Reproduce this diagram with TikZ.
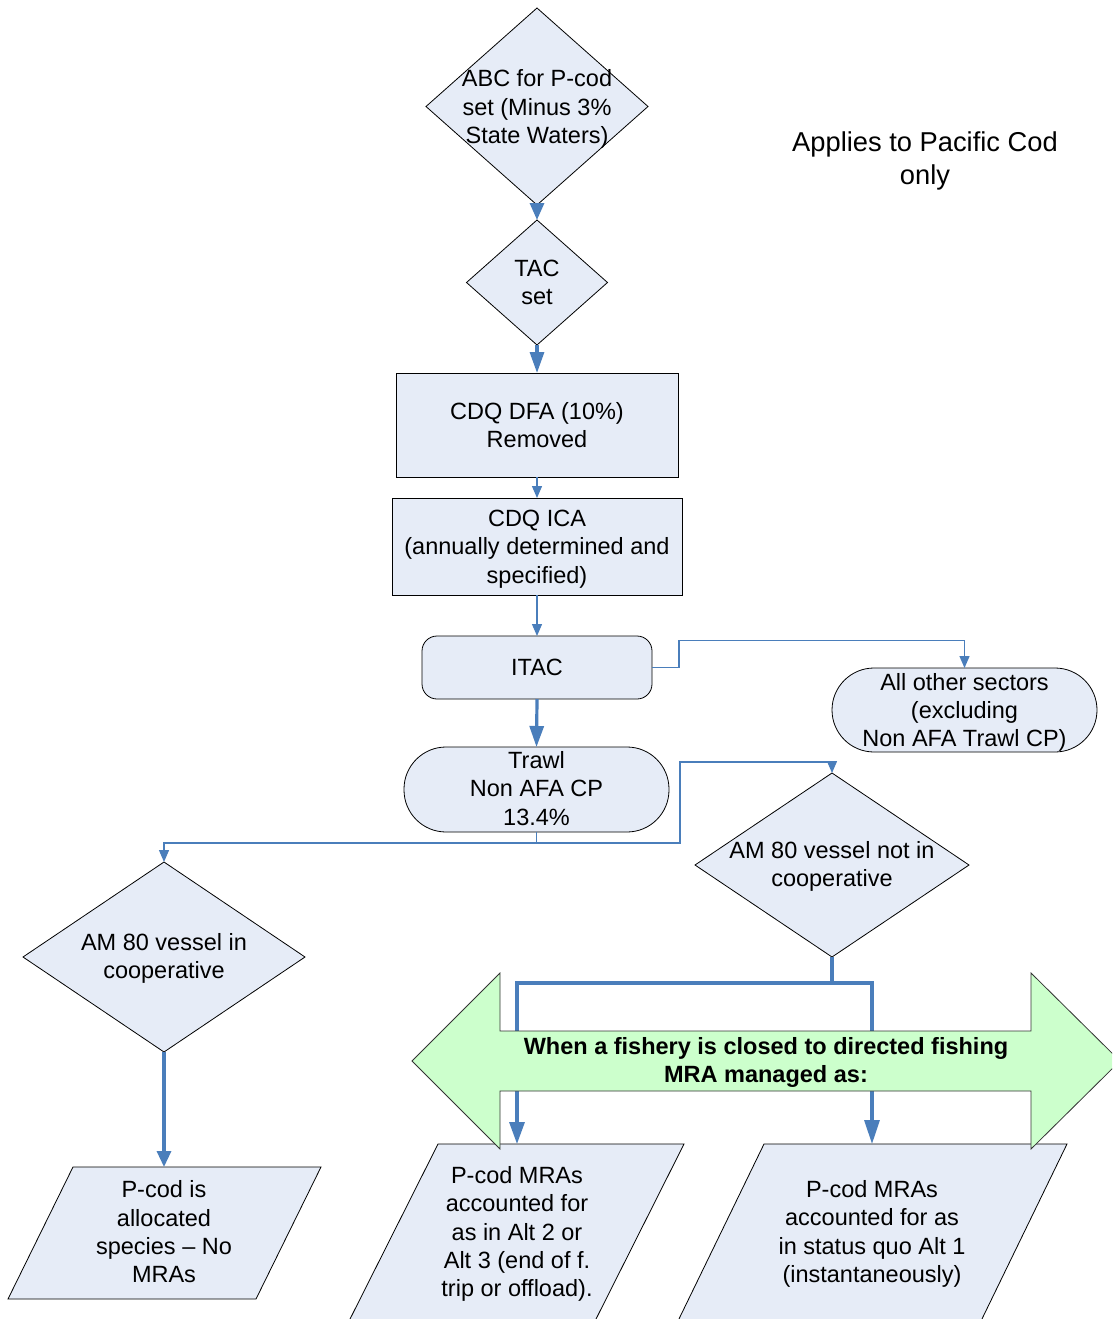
\documentclass[tikz,border=0pt]{standalone}
\usepackage{fontspec}
\setmainfont{Liberation Sans}
\usetikzlibrary{arrows.meta,shapes.geometric}
\definecolor{boxfill}{RGB}{230,236,247}
\definecolor{link}{RGB}{74,126,187}
\definecolor{bandfill}{RGB}{204,255,204}

\begin{document}
\begin{tikzpicture}[x=1pt,y=-1pt,
  every node/.style={inner sep=0pt, outer sep=0pt},
  lbl/.style={align=center, font=\fontsize{23.5}{28.3}\selectfont, yshift=-2.5pt},
  flatlbl/.style={lbl, yshift=2.5pt},
  decision/.style={diamond, draw=black, fill=boxfill, line width=0.8pt},
  box/.style={rectangle, draw=black, fill=boxfill, line width=0.8pt},
  slanted/.style={draw=black, fill=boxfill, line width=0.8pt},
  thinlink/.style={draw=link, line width=1.3pt, -{Triangle[length=12pt,width=10pt]}},
  thicklink/.style={draw=link, line width=3.2pt, -{Triangle[length=21pt,width=14pt]}},
  thickline/.style={draw=link, line width=3.2pt},
]
\useasboundingbox (0,0) rectangle (1112,1319);
\clip (0,0) rectangle (1112,1319);
\fill[white] (0,0) rectangle (1112,1319);

% heading
\node[align=center, font=\fontsize{27.3}{33}\selectfont, yshift=-2pt] (note) at (925,158.5) {Applies to Pacific Cod\\only};

% decisions at the top
\node[decision, minimum width=222, minimum height=197] (abc) at (537,106.5) {};
\node[lbl] (abctext) at (abc) {ABC for P-cod\\set (Minus 3\%\\State Waters)};
\node[decision, minimum width=141, minimum height=125] (tac) at (537,282.5) {};
\node[flatlbl] (tactext) at (tac) {TAC\\set};

% process boxes
\node[box, minimum width=282, minimum height=104] (dfa) at (537,425) {};
\node[flatlbl] (dfatext) at (dfa) {CDQ DFA (10\%)\\Removed};
\node[box, minimum width=290, minimum height=97] (ica) at (537,546.5) {};
\node[lbl] (icatext) at (ica) {CDQ ICA\\(annually determined and\\specified)};
\node[box, rounded corners=15, minimum width=230, minimum height=63] (itac) at (537,667.5) {};
\node[flatlbl] (itactext) at (itac) {ITAC};
\node[box, rounded corners=42, minimum width=265, minimum height=84] (other) at (964.5,710) {};
\node[lbl] (othertext) at (other) {All other sectors\\(excluding\\Non AFA Trawl CP)};
\node[box, rounded corners=42, minimum width=265, minimum height=85] (trawl) at (536.5,789.5) {};
\node[flatlbl] (trawltext) at (536.5,788.5) {Trawl\\Non AFA CP\\13.4\%};

% cooperative decisions
\node[decision, minimum width=274, minimum height=184] (amnot) at (832,865) {};
\node[lbl] (amnottext) at (832,864) {AM 80 vessel not in\\cooperative};
\node[decision, minimum width=282, minimum height=190] (amin) at (164,957) {};
\node[lbl] (amintext) at (164,956) {AM 80 vessel in\\cooperative};

% outcome parallelograms
\draw[slanted] (73,1167) -- (321,1167) -- (256,1299) -- (8,1299) -- cycle;
\node[lbl, yshift=2pt] (p1) at (164,1231.5) {P-cod is\\allocated\\species -- No\\MRAs};
\draw[slanted] (438,1144) -- (684,1144) -- (590.5,1330) -- (344.5,1330) -- cycle;
\node[lbl] (p2) at (517,1231.5) {P-cod MRAs\\accounted for\\as in Alt 2 or\\Alt 3 (end of f.\\trip or offload).};
\draw[slanted] (764,1144) -- (1067,1144) -- (976.6,1330) -- (673.6,1330) -- cycle;
\node[lbl] (p3) at (872,1231.5) {P-cod MRAs\\accounted for as\\in status quo Alt 1\\(instantaneously)};

\coordinate (p1in) at (164,1167);
\coordinate (p2in) at (517,1144);
\coordinate (p3in) at (872,1144);
\coordinate (split) at (832,983);

% connectors
\draw[thicklink, -{Triangle[length=17pt,width=14pt]}] (abc.south) -- (tac.north);
\draw[thicklink] (tac.south) -- (dfa.north);
\draw[thinlink] (dfa.south) -- (ica.north);
\draw[thinlink] (ica.south) -- (itac.north);
\draw[thinlink] (itac.east) -- ++(27,0) -- ++(0,-27) -| (other.north);
\draw[thicklink] (itac.south) -- (trawl.north);
\draw[thinlink] (trawl.south) -- ++(0,11) -| (amin.north);
\draw[thinlink] (trawl.south) -- ++(0,11) -- ++(143.5,0) -- ++(0,-81) -| (amnot.north);
\draw[thicklink, -{Triangle[length=16pt,width=14pt]}] (amin.south) -- (p1in);
\draw[thickline] (amnot.south) -- (split);
\draw[thicklink, -{Triangle[length=22pt,width=15pt]}] (split) -| (p2in);
\draw[thicklink, -{Triangle[length=24pt,width=15pt]}] (split) -| (p3in);

% double-headed banner laid over the branches
\draw[fill=bandfill, draw=black!80, line width=0.8pt]
  (412,1061) -- (500,973) -- (500,1031) -- (1031,1031) -- (1031,973) -- (1120,1061)
  -- (1031,1149) -- (1031,1091) -- (500,1091) -- (500,1149) -- cycle;
\node[align=center, font=\bfseries\fontsize{23.5}{28.3}\selectfont, yshift=-2.5pt] (band) at (766,1060)
  {When a fishery is closed to directed fishing\\MRA managed as:};
\end{tikzpicture}
\end{document}
